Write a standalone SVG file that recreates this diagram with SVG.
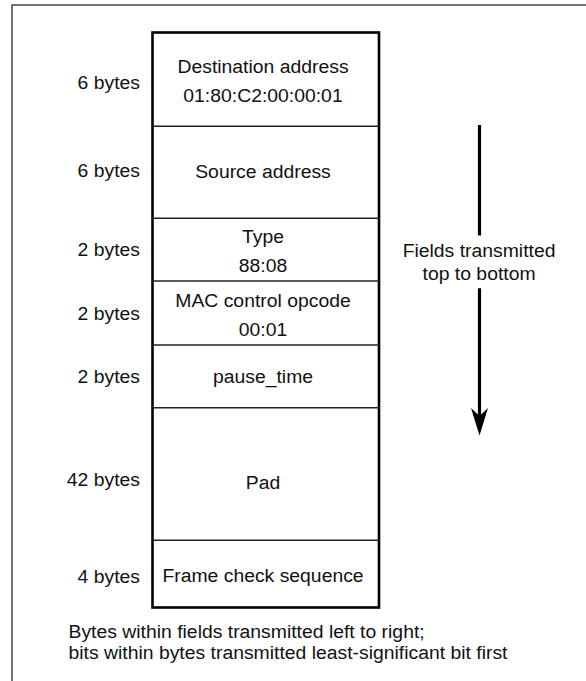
<svg xmlns="http://www.w3.org/2000/svg" width="586" height="681" viewBox="0 0 586 681">
  <defs>
    <style>
      .frame { fill: none; stroke: #444; stroke-width: 1.5; }
      .box { fill: none; stroke: #000; stroke-width: 2.6; }
      .divider { stroke: #222; stroke-width: 1.6; }
      .flow { stroke: #000; stroke-width: 3.2; fill: none; }
      text { font-family: "Liberation Sans", Arial, Helvetica, sans-serif; font-size: 17.6px; fill: #111; }
      .size { text-anchor: end; }
      .field { text-anchor: middle; }
      .note { text-anchor: middle; }
    </style>
  </defs>

  <rect width="586" height="681" fill="#fff"/>
  <!-- surrounding border (runs off the right and bottom edges) -->
  <rect class="frame" x="12" y="5" width="600" height="700"/>

  <!-- frame body outline -->
  <rect class="box" x="152.5" y="32.5" width="226.5" height="575"/>

  <!-- field separators -->
  <g id="separators">
    <line class="divider" x1="152.5" y1="126.2" x2="379" y2="126.2"/>
    <line class="divider" x1="152.5" y1="218.3" x2="379" y2="218.3"/>
    <line class="divider" x1="152.5" y1="281" x2="379" y2="281"/>
    <line class="divider" x1="152.5" y1="345" x2="379" y2="345"/>
    <line class="divider" x1="152.5" y1="407.7" x2="379" y2="407.7"/>
    <line class="divider" x1="152.5" y1="540.2" x2="379" y2="540.2"/>
  </g>

  <!-- text is set slightly wide: x coordinates are divided by 1.1 -->
  <g transform="scale(1.1,1)">
    <g id="dest">
      <text class="size" x="127.3" y="89">6 bytes</text>
      <text class="field" x="239.1" y="73">Destination address</text>
      <text class="field" x="239.1" y="102">01:80:C2:00:00:01</text>
    </g>
    <g id="src">
      <text class="size" x="127.3" y="177.5">6 bytes</text>
      <text class="field" x="239.1" y="178">Source address</text>
    </g>
    <g id="type">
      <text class="size" x="127.3" y="256">2 bytes</text>
      <text class="field" x="239.1" y="243">Type</text>
      <text class="field" x="239.1" y="271.7">88:08</text>
    </g>
    <g id="opcode">
      <text class="size" x="127.3" y="320">2 bytes</text>
      <text class="field" x="239.1" y="307">MAC control opcode</text>
      <text class="field" x="239.1" y="336.5">00:01</text>
    </g>
    <g id="pause">
      <text class="size" x="127.3" y="383">2 bytes</text>
      <text class="field" x="239.1" y="382.7">pause_time</text>
    </g>
    <g id="pad">
      <text class="size" x="127.3" y="486.5">42 bytes</text>
      <text class="field" x="239.1" y="489">Pad</text>
    </g>
    <g id="fcs">
      <text class="size" x="127.3" y="583">4 bytes</text>
      <text class="field" x="239.1" y="582">Frame check sequence</text>
    </g>
    <g id="order-label">
      <text class="note" x="435.5" y="257">Fields transmitted</text>
      <text class="note" x="435.5" y="280">top to bottom</text>
    </g>
    <g id="footnote">
      <text x="62.3" y="638">Bytes within fields transmitted left to right;</text>
      <text x="62.3" y="659">bits within bytes transmitted least-significant bit first</text>
    </g>
  </g>

  <!-- transmission order arrow -->
  <g id="connectors">
    <line class="flow" x1="479.5" y1="125" x2="479.5" y2="235.5"/>
    <line class="flow" x1="479.5" y1="288.3" x2="479.5" y2="418"/>
    <polygon points="471,408 479.5,416 488,408 479.5,435.5" fill="#000"/>
  </g>
</svg>
